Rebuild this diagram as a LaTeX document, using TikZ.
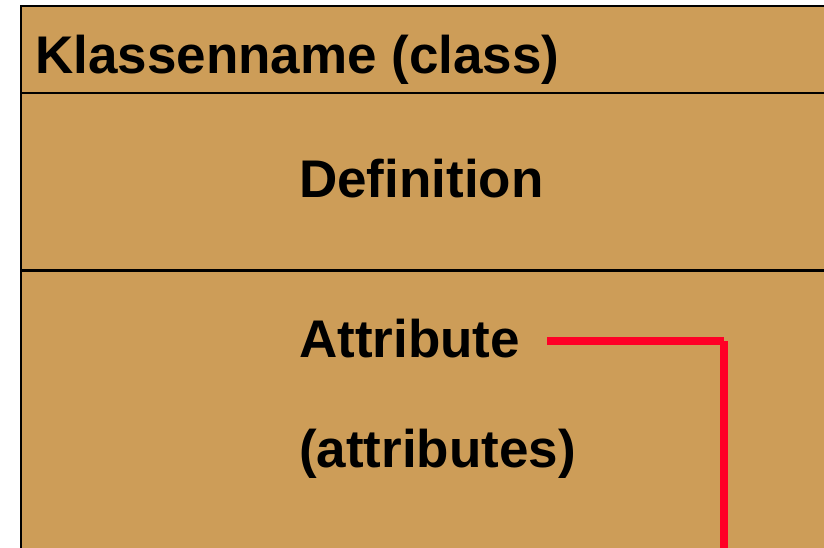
\documentclass[tikz,border=0pt]{standalone}
\usepackage{fontspec}
\setmainfont{Liberation Sans}
\definecolor{classtan}{RGB}{205,157,88}
\definecolor{linkred}{RGB}{255,0,38}
\tikzset{
  compartment/.style={fill=classtan, draw=black, line width=2.5pt},
  divider/.style={draw=black, line width=2.5pt},
  classtext/.style={anchor=base west, inner sep=0pt, font=\bfseries\fontsize{53}{60}\selectfont},
  linkline/.style={draw=linkred, line width=8pt}
}
\begin{document}
\begin{tikzpicture}[x=1pt,y=-1pt]
		\clip (0,0) rectangle (824,548);
		\fill[white] (0,0) rectangle (824,548);
		\draw[compartment] (21,6) rectangle (850,580);
		\draw[divider] (21,93) -- (850,93);
		\draw[divider] (21,270.5) -- (850,270.5);
		
		\node[classtext] (classname) at (35,74) {Klassenname (class)};
		\node[classtext] (definition) at (299,197) {Definition};
		\node[classtext] (attribute) at (299,357) {Attribute};
		\node[classtext] (attributes) at (299,467) {(attributes)};
		
		\coordinate (linkstart) at (547,341);
		\coordinate (linkbend) at (724,341);
		\coordinate (linkdown) at (724,570);
		\draw[linkline] (linkstart) -- (linkbend);
		\draw[linkline] (linkbend) -- (linkdown);
	\end{tikzpicture}
\end{document}
